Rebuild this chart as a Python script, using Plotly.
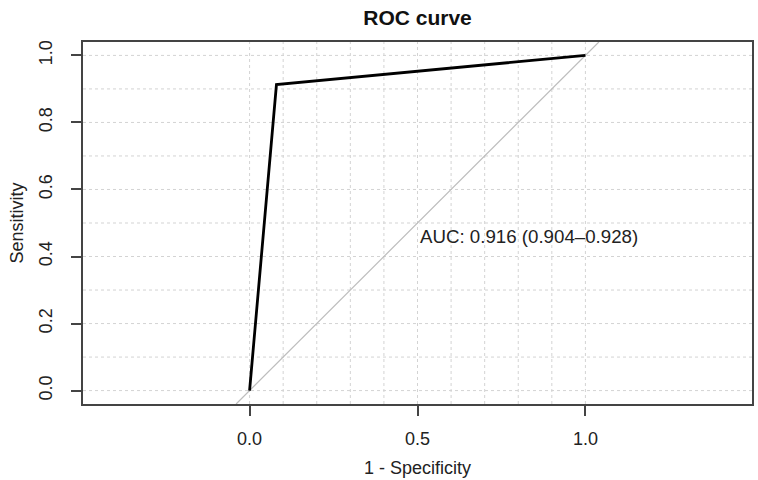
import plotly.graph_objects as go

# Data
fpr = [0.0, 0.08, 1.0]          # 1 - Specificity
tpr = [0.0, 0.913, 1.0]         # Sensitivity
x_tick_vals = [0.0, 0.5, 1.0]
x_tick_text = ["0.0", "0.5", "1.0"]
y_tick_vals = [0.0, 0.2, 0.4, 0.6, 0.8, 1.0]
y_tick_text = ["0.0", "0.2", "0.4", "0.6", "0.8", "1.0"]
grid_steps = [i / 10 for i in range(11)]
auc_label = "AUC: 0.916 (0.904\u20130.928)"

x_range = [-0.496, 1.496]
y_range = [-0.04, 1.04]

FONT = "Liberation Sans, Arial, sans-serif"
GRID = "#d3d3d3"
AXC = "#444444"

fig = go.Figure()

# chance diagonal spanning the box
fig.add_trace(go.Scatter(x=[y_range[0], y_range[1]], y=[y_range[0], y_range[1]],
                         mode="lines", line=dict(color="#bdbdbd", width=1.2),
                         hoverinfo="skip", showlegend=False))
# ROC curve
fig.add_trace(go.Scatter(x=fpr, y=tpr, mode="lines",
                         line=dict(color="black", width=2.8),
                         showlegend=False))

shapes = []
for g in grid_steps:
    shapes.append(dict(type="line", xref="x", yref="paper", x0=g, x1=g, y0=0, y1=1,
                       line=dict(color=GRID, width=1, dash="dot"), layer="below"))
    shapes.append(dict(type="line", xref="paper", yref="y", x0=0, x1=1, y0=g, y1=g,
                       line=dict(color=GRID, width=1, dash="dot"), layer="below"))

fig.update_layout(
    width=758, height=480,
    margin=dict(l=83, r=6, t=42, b=76),
    paper_bgcolor="white", plot_bgcolor="white",
    font=dict(family=FONT, color="#222222", size=18),
    title=dict(text="<b>ROC curve</b>", x=(83 + 752) / 2 / 758, xanchor="center",
               y=1 - 18 / 480, yanchor="middle", font=dict(size=21, color="#111111")),
    shapes=shapes,
    showlegend=False,
    annotations=[dict(x=0.5, y=0.5, xref="x", yref="y", text=auc_label, showarrow=False,
                      xanchor="left", yanchor="top", yshift=-1, font=dict(size=18.7, color="#222222"))],
)

fig.update_xaxes(range=x_range, tickvals=x_tick_vals, ticktext=x_tick_text, automargin=False,
                 showgrid=False, zeroline=False, showline=True, mirror=True,
                 linecolor=AXC, linewidth=1.5, ticks="outside", ticklen=10,
                 tickcolor=AXC, tickwidth=1.5, ticklabelstandoff=8,
                 title=dict(text="1 - Specificity", standoff=13, font=dict(size=18)))
fig.update_yaxes(range=y_range, tickvals=y_tick_vals, ticktext=y_tick_text, automargin=False,
                 showgrid=False, zeroline=False, showline=True, mirror=True,
                 linecolor=AXC, linewidth=1.5, ticks="outside", ticklen=10,
                 tickcolor=AXC, tickwidth=1.5, tickangle=-90, ticklabelstandoff=12,
                 title=dict(text="Sensitivity", standoff=8, font=dict(size=18)))

fig.write_html("out.html", config={"displayModeBar": False},
               post_script="document.body.style.margin='0';document.body.style.overflow='hidden';")
